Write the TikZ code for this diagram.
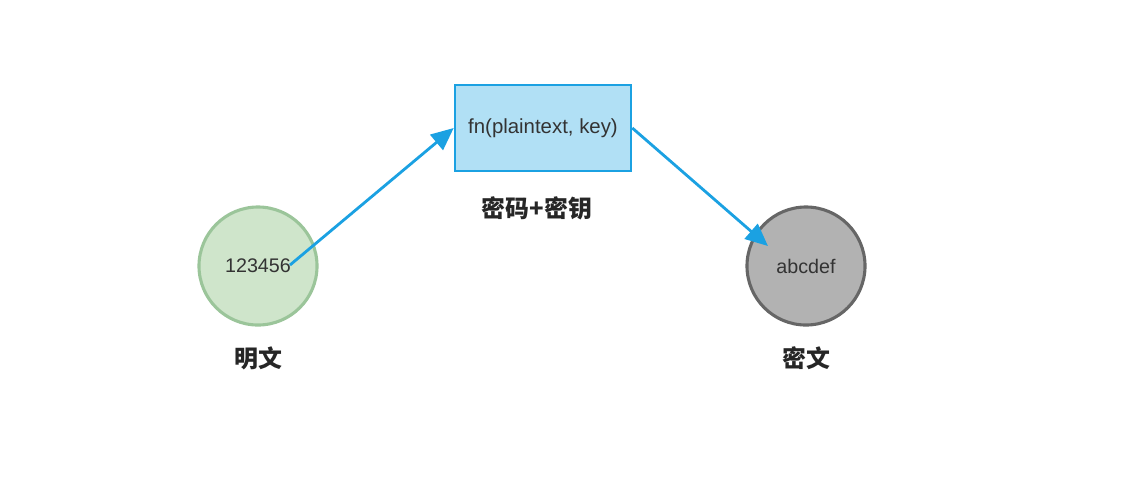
\documentclass[tikz,border=0pt]{standalone}
\usepackage{fontspec}
\setmainfont{Liberation Sans}
\newfontfamily\cjk{Noto Sans CJK SC}
\usetikzlibrary{arrows.meta}
\definecolor{plainfill}{HTML}{CFE5CB}
\definecolor{plaindraw}{HTML}{9BC59A}
\definecolor{fnfill}{HTML}{B1E0F5}
\definecolor{fndraw}{HTML}{1BA1E2}
\definecolor{cipherfill}{HTML}{B2B2B2}
\definecolor{cipherdraw}{HTML}{666666}
\definecolor{txt}{HTML}{333333}
\tikzstyle{plainnode} = [circle,
minimum size=2.95cm,
text centered,
line width=2.2pt,
draw=plaindraw,
fill=plainfill,
text=txt,
font=\fontsize{14}{16}\selectfont]
\tikzstyle{ciphernode} = [circle,
minimum size=2.95cm,
text centered,
line width=2.2pt,
draw=cipherdraw,
fill=cipherfill,
text=txt,
font=\fontsize{14}{16}\selectfont]
\tikzstyle{fnbox} = [rectangle,
minimum width=4.4cm,
minimum height=2.15cm,
text centered,
line width=1.8pt,
draw=fndraw,
fill=fnfill,
text=txt,
font=\fontsize{14.5}{16}\selectfont]
\tikzstyle{label} = [text=black!85, font=\cjk\bfseries\fontsize{17}{18}\selectfont]
\tikzstyle{arrow} = [line width=2pt, draw=fndraw, -{Triangle[length=16pt, width=14pt]}]

\begin{document}
\begin{tikzpicture}[x=0.025cm, y=-0.025cm]
\useasboundingbox (0,0) rectangle (1124,482);
\node (plain) [plainnode] at (258,266) {123456};
\node (fn) [fnbox] at (543,128) {fn(plaintext, key)};
\node (cipher) [ciphernode] at (806,266) {abcdef};
\node (plainlbl) [label] at (258,358) {明文};
\node (fnlbl) [label] at (537,208) {密码+密钥};
\node (cipherlbl) [label] at (806,358) {密文};
\coordinate (start) at (290,265);
\coordinate (hit) at (768,246);
\draw [arrow] (start) -- (fn.west);
\draw [arrow] (fn.east) -- (hit);
\end{tikzpicture}
\end{document}
